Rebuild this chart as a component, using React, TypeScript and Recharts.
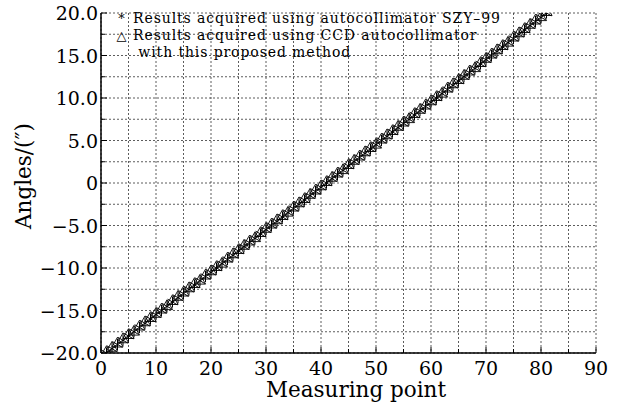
import React from 'react'
import { CartesianGrid, Scatter, ScatterChart, XAxis, YAxis } from 'recharts'

// measuring points and readings (arc seconds)
const measuringPoints = [
  1, 2, 3, 4, 5, 6, 7, 8, 9, 10, 11, 12, 13, 14, 15, 16, 17, 18, 19, 20,
  21, 22, 23, 24, 25, 26, 27, 28, 29, 30, 31, 32, 33, 34, 35, 36, 37, 38, 39,
  40, 41, 42, 43, 44, 45, 46, 47, 48, 49, 50, 51, 52, 53, 54, 55, 56, 57, 58,
  59, 60, 61, 62, 63, 64, 65, 66, 67, 68, 69, 70, 71, 72, 73, 74, 75, 76, 77,
  78, 79, 80, 81,
]

const szy99 = [
  -20.0, -19.5, -19.0, -18.5, -18.0, -17.5, -17.0, -16.5, -16.0, -15.5,
  -15.0, -14.5, -14.0, -13.5, -13.0, -12.5, -12.0, -11.5, -11.0, -10.5,
  -10.0, -9.5, -9.0, -8.5, -8.0, -7.5, -7.0, -6.5, -6.0, -5.5,
  -5.0, -4.5, -4.0, -3.5, -3.0, -2.5, -2.0, -1.5, -1.0, -0.5,
  0.0, 0.5, 1.0, 1.5, 2.0, 2.5, 3.0, 3.5, 4.0, 4.5,
  5.0, 5.5, 6.0, 6.5, 7.0, 7.5, 8.0, 8.5, 9.0, 9.5,
  10.0, 10.5, 11.0, 11.5, 12.0, 12.5, 13.0, 13.5, 14.0, 14.5,
  15.0, 15.5, 16.0, 16.5, 17.0, 17.5, 18.0, 18.5, 19.0, 19.5,
  20.0,
]

const ccd = [
  -19.8, -19.3, -18.8, -18.3, -17.8, -17.4, -16.8, -16.3, -15.8, -15.3,
  -14.8, -14.4, -13.8, -13.3, -12.8, -12.3, -11.8, -11.4, -10.8, -10.3,
  -9.8, -9.4, -8.8, -8.3, -7.8, -7.3, -6.8, -6.4, -5.8, -5.3,
  -4.8, -4.3, -3.8, -3.4, -2.8, -2.3, -1.8, -1.3, -0.8, -0.3,
  0.2, 0.7, 1.2, 1.6, 2.2, 2.7, 3.2, 3.7, 4.2, 4.6,
  5.2, 5.7, 6.2, 6.7, 7.2, 7.6, 8.2, 8.7, 9.2, 9.7,
  10.2, 10.6, 11.2, 11.7, 12.2, 12.7, 13.2, 13.6, 14.2, 14.7,
  15.2, 15.7, 16.2, 16.6, 17.2, 17.7, 18.2, 18.7, 19.2, 19.6,
  20.2,
]

const xTicks = [0, 5, 10, 15, 20, 25, 30, 35, 40, 45, 50, 55, 60, 65, 70, 75, 80, 85, 90]
const yTicks = [
  -20, -17.5, -15, -12.5, -10, -7.5, -5, -2.5, 0, 2.5, 5, 7.5, 10, 12.5, 15, 17.5, 20,
]

const legendLines = [
  { mark: '*', text: 'Results acquired using autocollimator SZY\u201399' },
  { mark: '\u25b3', text: 'Results acquired using CCD autocollimator' },
  { mark: '', text: ' with this proposed method' },
]

const FONT = '"DejaVu Serif", serif'

const szyData = measuringPoints.map((x, i) => ({ x, y: szy99[i] }))
const ccdData = measuringPoints.map((x, i) => ({ x, y: ccd[i] }))

const fmtY = (v: number) => (v === 0 ? '0' : v.toFixed(1).replace('-', '\u2212'))

const BottomTick = (props: any) => {
  const { x, y, payload } = props
  const major = payload.value % 10 === 0
  return (
    <g>
      <line x1={x} x2={x} y1={y} y2={y - (major ? 6 : 4)} stroke="#000" />
      {major && (
        <text x={x} y={y + 22} textAnchor="middle" fontSize={19} fontFamily={FONT} fill="#000">
          {payload.value}
        </text>
      )}
    </g>
  )
}

const TopTick = (props: any) => {
  const { x, y, payload } = props
  const major = payload.value % 10 === 0
  return <line x1={x} x2={x} y1={y} y2={y + (major ? 6 : 4)} stroke="#000" />
}

const LeftTick = (props: any) => {
  const { x, y, payload } = props
  const major = payload.value % 5 === 0
  return (
    <g>
      <line x1={x} x2={x + (major ? 6 : 4)} y1={y} y2={y} stroke="#000" />
      {major && (
        <text x={x - 3} y={y + 7} textAnchor="end" fontSize={19} fontFamily={FONT} fill="#000">
          {fmtY(payload.value)}
        </text>
      )}
    </g>
  )
}

const RightTick = (props: any) => {
  const { x, y, payload } = props
  const major = payload.value % 5 === 0
  return <line x1={x} x2={x - (major ? 6 : 4)} y1={y} y2={y} stroke="#000" />
}

const Asterisk = (props: any) => {
  const { cx, cy } = props
  const r = 5.6
  return (
    <g stroke="#000" strokeWidth={1}>
      <line x1={cx} x2={cx} y1={cy - r} y2={cy + r} />
      <line x1={cx - r * 0.87} x2={cx + r * 0.87} y1={cy - r * 0.5} y2={cy + r * 0.5} />
      <line x1={cx - r * 0.87} x2={cx + r * 0.87} y1={cy + r * 0.5} y2={cy - r * 0.5} />
    </g>
  )
}

const Triangle = (props: any) => {
  const { cx, cy } = props
  const r = 5.6
  return (
    <polygon
      points={`${cx},${cy - r} ${cx - r},${cy + r * 0.75} ${cx + r},${cy + r * 0.75}`}
      fill="none"
      stroke="#000"
      strokeWidth={0.9}
    />
  )
}

export default function App() {
  return (
    <div style={{ position: 'absolute', left: 0, top: 0, width: 619, height: 409, background: '#fff' }}>
      <ScatterChart width={619} height={409} margin={{ top: 13, right: 23, bottom: 0, left: 0 }}>
        <CartesianGrid stroke="#333" strokeDasharray="2 2" strokeWidth={0.8} />
        <XAxis
          dataKey="x"
          type="number"
          domain={[0, 90]}
          ticks={xTicks}
          interval={0}
          height={56}
          tickSize={0}
          tickMargin={0}
          tick={<BottomTick />}
          axisLine={{ stroke: '#000', strokeWidth: 1.5 }}
        />
        <XAxis
          xAxisId="top"
          orientation="top"
          type="number"
          domain={[0, 90]}
          ticks={xTicks}
          interval={0}
          height={0}
          tickSize={0}
          tickMargin={0}
          tick={<TopTick />}
          axisLine={{ stroke: '#000', strokeWidth: 1.5 }}
        />
        <YAxis
          dataKey="y"
          type="number"
          domain={[-20, 20]}
          ticks={yTicks}
          interval={0}
          width={101}
          tickSize={0}
          tickMargin={0}
          tick={<LeftTick />}
          axisLine={{ stroke: '#000', strokeWidth: 1.5 }}
          allowDataOverflow
        />
        <YAxis
          yAxisId="right"
          orientation="right"
          type="number"
          domain={[-20, 20]}
          ticks={yTicks}
          interval={0}
          width={0}
          tickSize={0}
          tickMargin={0}
          tick={<RightTick />}
          axisLine={{ stroke: '#000', strokeWidth: 1.5 }}
        />
        <Scatter name="SZY-99" data={szyData} shape={<Asterisk />} isAnimationActive={false} />
        <Scatter name="CCD" data={ccdData} shape={<Triangle />} isAnimationActive={false} />
      </ScatterChart>
      <div
        style={{
          position: 'absolute',
          left: 23,
          top: 176,
          transform: 'translate(-50%, -50%) rotate(-90deg)',
          fontFamily: FONT,
          fontSize: 21.5,
          whiteSpace: 'nowrap',
        }}
      >
        Angles/(″)
      </div>
      <div
        style={{
          position: 'absolute',
          left: 356,
          top: 377,
          transform: 'translateX(-50%)',
          fontFamily: FONT,
          fontSize: 21.5,
          whiteSpace: 'nowrap',
        }}
      >
        Measuring point
      </div>
      <div
        style={{
          position: 'absolute',
          left: 111,
          top: 10,
          fontFamily: FONT,
          fontSize: 14,
          lineHeight: '17px',
          letterSpacing: 0.9,
        }}
      >
        {legendLines.map((l) => (
          <div key={l.text} style={{ display: 'flex', whiteSpace: 'pre', height: 17 }}>
            <span style={{ width: 22, textAlign: 'center', fontSize: 13 }}>{l.mark}</span>
            <span>{l.text}</span>
          </div>
        ))}
      </div>
    </div>
  )
}
